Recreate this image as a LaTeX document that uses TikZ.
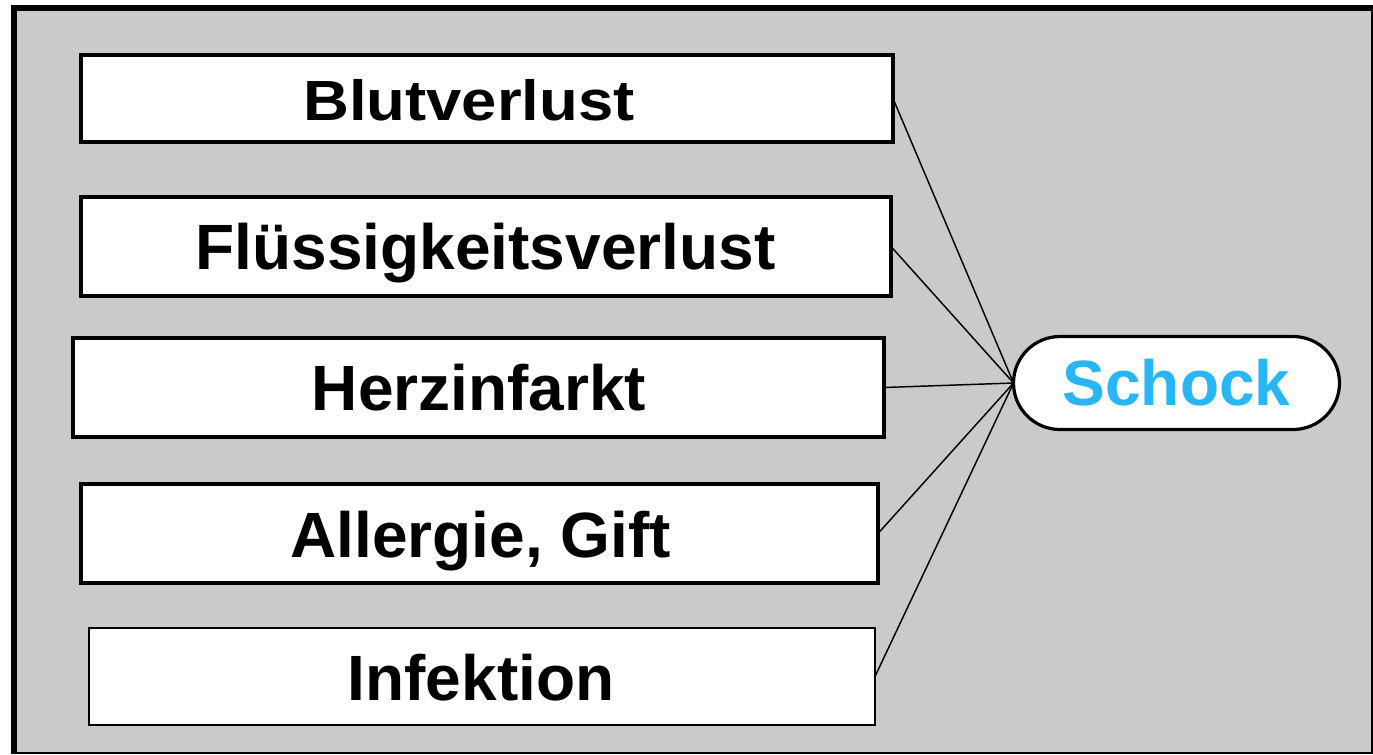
\documentclass[tikz,border=0pt]{standalone}
\usepackage{fontspec}
\setmainfont{Liberation Sans}
\definecolor{bggray}{HTML}{CACACA}
\definecolor{shockblue}{RGB}{40,182,246}
\begin{document}
\begin{tikzpicture}[x=0.75pt,y=-0.75pt,
  causebox/.style={draw=black,fill=white,line width=3pt,inner sep=0pt,outer sep=0pt,rectangle},
  label text/.style={anchor=base,inner sep=0pt,outer sep=0pt,font=\fontsize{48}{50}\selectfont\bfseries},
  link/.style={draw=black,line width=1.1pt}]
\useasboundingbox (0,0) rectangle (1373,754);
% outer frame
\fill[bggray] (14,8) rectangle (1372,753);
\draw[line width=1.5pt] (1372,5) -- (1372,754);
\draw[line width=1.5pt] (11,753) -- (1373,753);
\draw[line width=4.5pt] (11,8) -- (1373,8);
\draw[line width=4.5pt] (14,5) -- (14,754);
% boxes
\node[causebox,minimum width=609pt,minimum height=65.25pt] (b1) at (487,98.5) {};
\node[causebox,minimum width=607.5pt,minimum height=74.25pt] (b2) at (486,246.5) {};
\node[causebox,minimum width=608.25pt,minimum height=74.25pt] (b3) at (478.5,387.5) {};
\node[causebox,minimum width=597.75pt,minimum height=74.25pt] (b4) at (479.5,533.5) {};
\node[causebox,line width=1.5pt,minimum width=589.5pt,minimum height=72.75pt] (b5) at (482,676.5) {};
\node[draw=black,fill=white,line width=2.4pt,inner sep=0pt,outer sep=0pt,rectangle,rounded corners=34.875pt,minimum width=244.5pt,minimum height=69.75pt] (s) at (1176.5,383) {};
% texts
\node[label text,font=\fontsize{42.5}{45}\selectfont\bfseries] (t1) at (469,120) {\scalebox{1.12}[1]{Blutverlust}};
\node[label text] (t2) at (485.5,269.5) {Flüssigkeitsverlust};
\node[label text] (t3) at (479,410) {Herzinfarkt};
\node[label text] (t4) at (480.5,557) {Allergie, Gift};
\node[label text] (t5) at (481,700) {Infektion};
\node[label text,text=shockblue] (ts) at (1176.5,405) {Schock};
% connectors
\draw[link] (b1.east) -- (s.west);
\draw[link] (b2.east) -- (s.west);
\draw[link] (b3.east) -- (s.west);
\draw[link] (b4.east) -- (s.west);
\draw[link] (b5.east) -- (s.west);
\end{tikzpicture}
\end{document}
